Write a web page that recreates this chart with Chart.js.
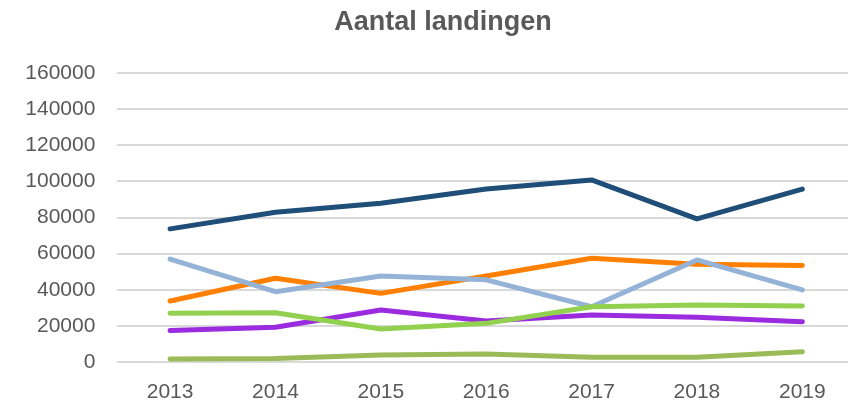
<!DOCTYPE html>
<html><head><meta charset="utf-8">
<script src="https://cdn.jsdelivr.net/npm/chart.js@4"></script>
<style>
html,body{margin:0;padding:0;background:#fff;overflow:hidden;}
#wrap{width:856px;height:404px;position:relative;}
</style></head>
<body><div id="wrap"><canvas id="c"></canvas></div>
<script>
const categories = ['2013','2014','2015','2016','2017','2018','2019'];
const seriesDarkBlue  = [73700, 82900, 87900, 95800, 100800, 79200, 95700];
const seriesLightBlue = [57000, 38900, 47600, 45500, 30600, 56500, 39900];
const seriesOrange    = [33800, 46400, 38000, 47600, 57400, 54100, 53400];
const seriesLightGreen= [27000, 27300, 18300, 21400, 30600, 31600, 31000];
const seriesPurple    = [17400, 19200, 28800, 22700, 26000, 24800, 22300];
const seriesOlive     = [1700, 1900, 3900, 4400, 2600, 2600, 5700];
const yTicks = [0,20000,40000,60000,80000,100000,120000,140000,160000];

function ds(data,color){return {data,borderColor:color,backgroundColor:color,borderWidth:5,pointRadius:0,tension:0,borderCapStyle:'round',borderJoinStyle:'round',fill:false};}
const tickFont = {family:'"Liberation Sans",sans-serif',size:21};

const titleShift = {id:'titleShift', afterLayout(chart){
  const t = chart.titleBlock; if (t) { t.left = 30; t.right = chart.width; }
}};

new Chart(document.getElementById('c'),{
  type:'line',
  data:{labels:categories,datasets:[
    ds(seriesOlive,'#9BBB59'),
    ds(seriesLightGreen,'#92D050'),
    ds(seriesPurple,'#9B2BDE'),
    ds(seriesLightBlue,'#95B3D7'),
    ds(seriesOrange,'#FF8000'),
    ds(seriesDarkBlue,'#1F4E79')
  ]},
  plugins:[titleShift],
  options:{
    responsive:true,maintainAspectRatio:false,animation:false,
    layout:{padding:{left:0,right:1,top:0,bottom:0}},
    plugins:{
      legend:{display:false},tooltip:{enabled:false},
      title:{display:true,text:'Aantal landingen',color:'#595959',
        font:{family:'"Liberation Sans",sans-serif',size:27,weight:'bold',lineHeight:1.2},
        padding:{top:6,bottom:34.6}}
    },
    scales:{
      x:{offset:true,grid:{display:false,drawTicks:false},border:{display:false},
        afterFit:(s)=>{s.height=42;},
        ticks:{color:'#595959',font:tickFont,padding:18,maxRotation:0}},
      y:{min:0,max:160000,
        afterBuildTicks:(s)=>{s.ticks=yTicks.map(v=>({value:v}));},
        afterFit:(s)=>{s.width=117.4;},
        grid:{color:'#D9D9D9',lineWidth:2,drawTicks:false},border:{display:false},
        ticks:{color:'#595959',font:tickFont,padding:22,callback:v=>String(v)}}
    }
  }
});
</script></body></html>
